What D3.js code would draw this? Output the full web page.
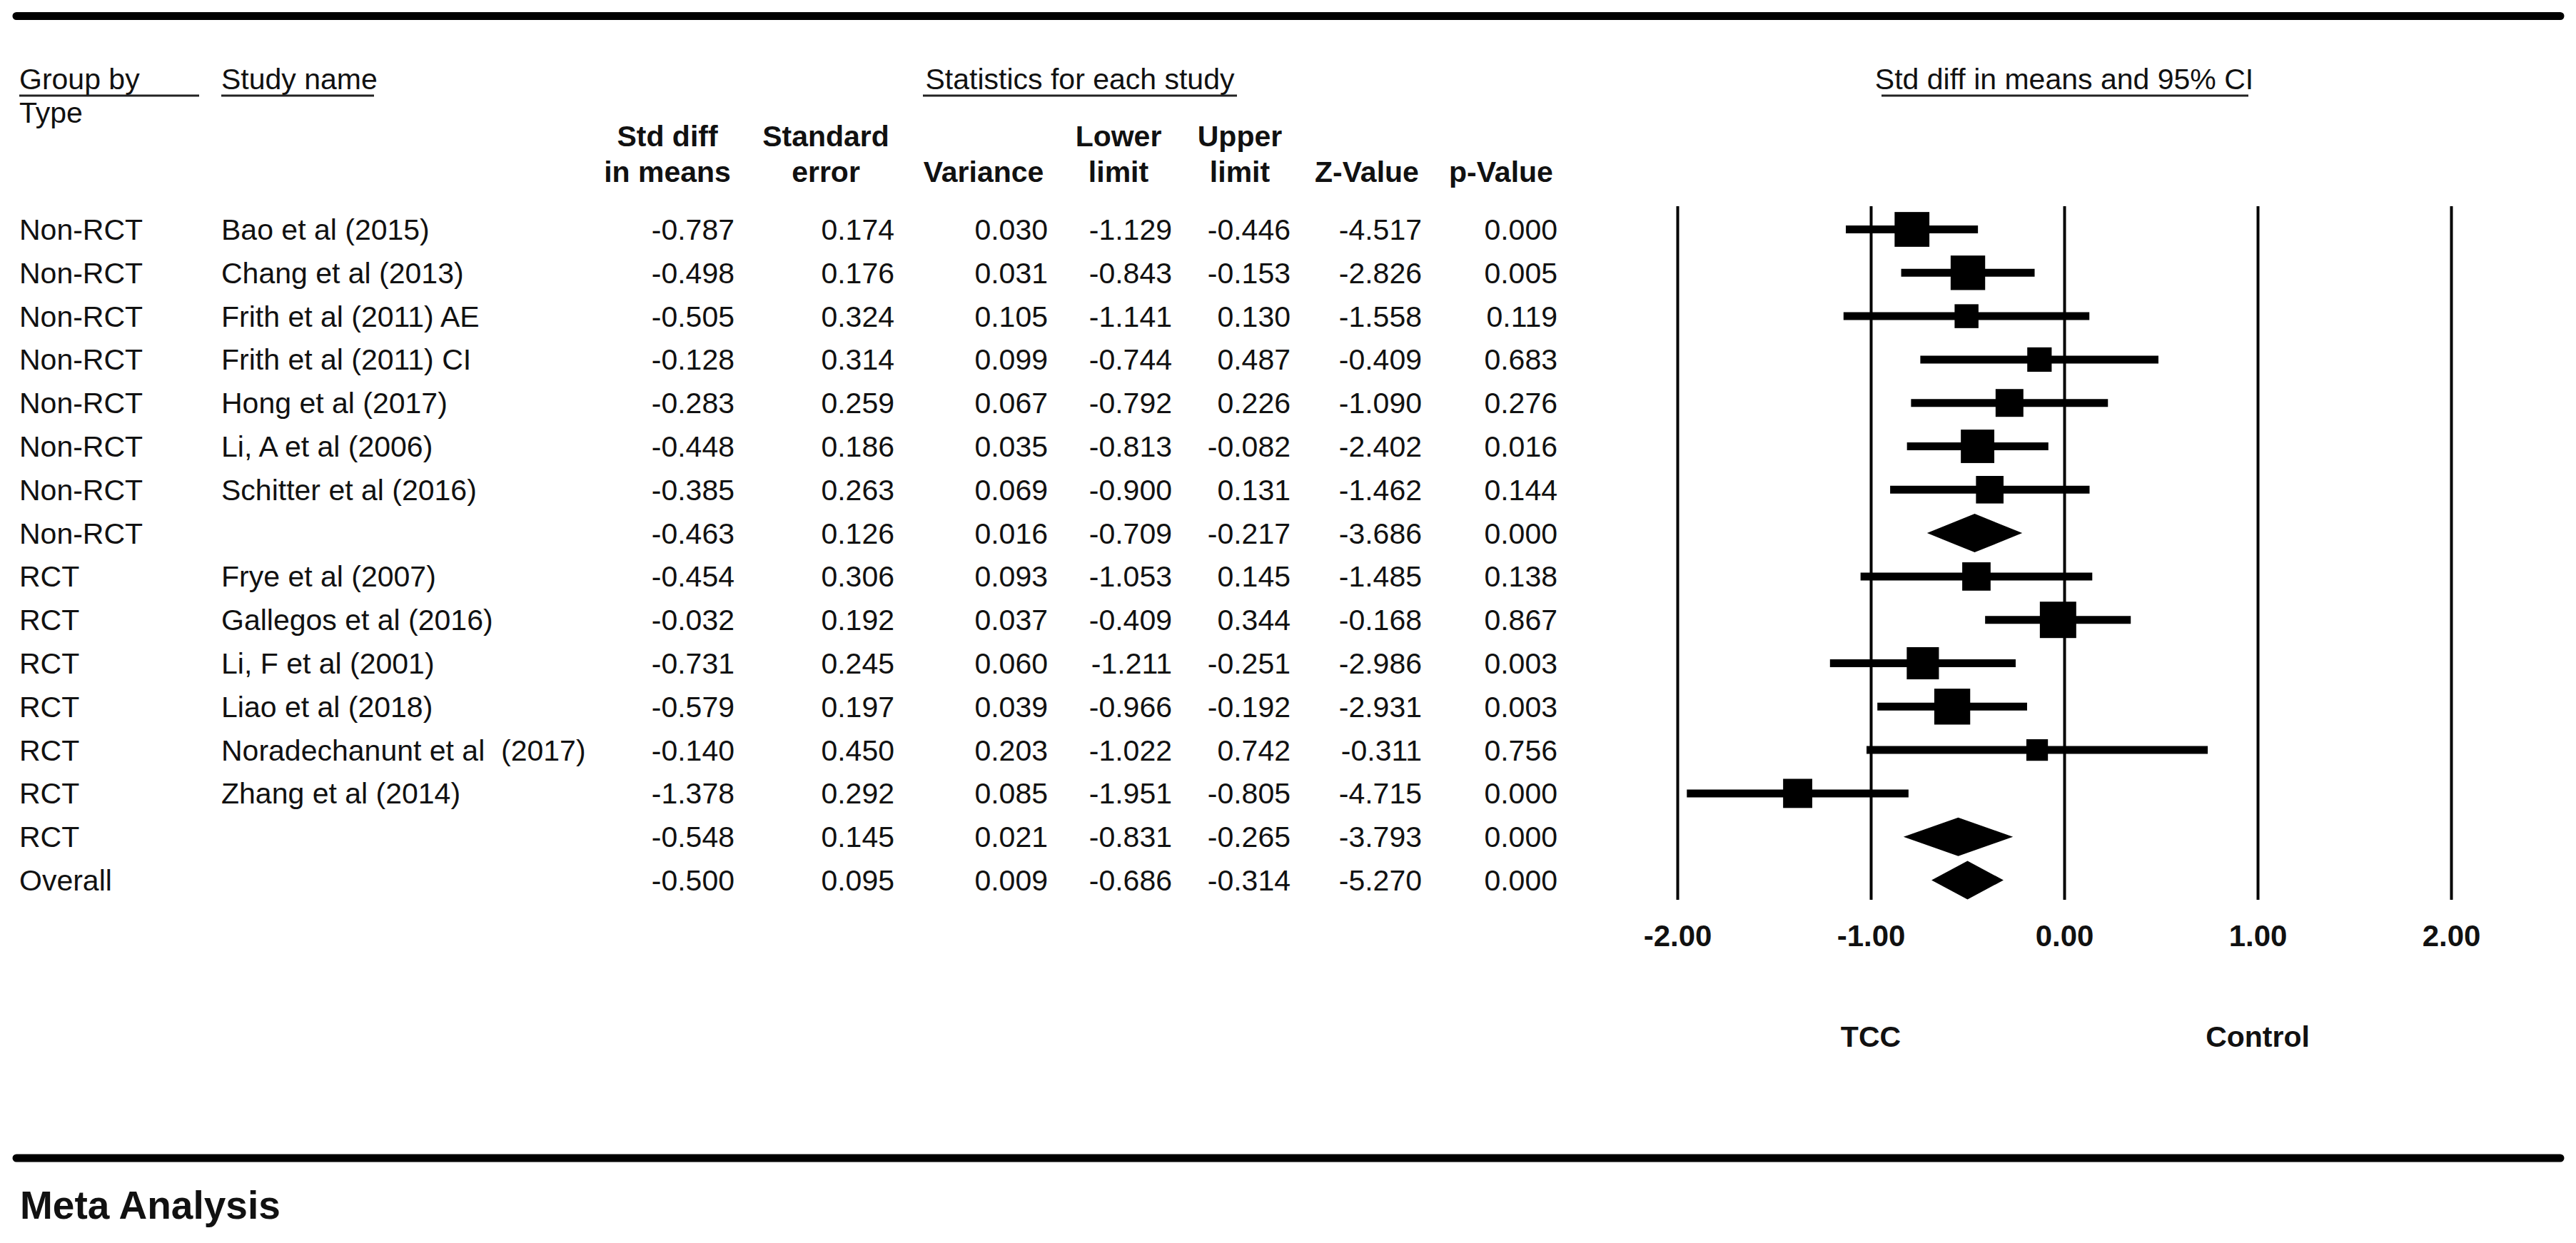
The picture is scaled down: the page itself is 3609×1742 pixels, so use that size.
<!DOCTYPE html>
<html>
<head>
<meta charset="utf-8">
<script src="https://cdn.jsdelivr.net/npm/d3@7"></script>
<style>
  html, body { margin: 0; padding: 0; background: #fff; }
  svg text { font-family: Arial, "Liberation Sans", sans-serif; fill: #111; white-space: pre; }
</style>
</head>
<body>
<script>
// table data
var groups = ["Non-RCT", "Non-RCT", "Non-RCT", "Non-RCT", "Non-RCT", "Non-RCT", "Non-RCT", "Non-RCT",
              "RCT", "RCT", "RCT", "RCT", "RCT", "RCT", "RCT", "Overall"];
var studies = ["Bao et al (2015)", "Chang et al (2013)", "Frith et al (2011) AE", "Frith et al (2011) CI",
               "Hong et al (2017)", "Li, A et al (2006)", "Schitter et al (2016)", "",
               "Frye et al (2007)", "Gallegos et al (2016)", "Li, F et al (2001)", "Liao et al (2018)",
               "Noradechanunt et al  (2017)", "Zhang et al (2014)", "", ""];
var stdDiff  = [-0.787, -0.498, -0.505, -0.128, -0.283, -0.448, -0.385, -0.463, -0.454, -0.032, -0.731, -0.579, -0.140, -1.378, -0.548, -0.500];
var stdErr   = [0.174, 0.176, 0.324, 0.314, 0.259, 0.186, 0.263, 0.126, 0.306, 0.192, 0.245, 0.197, 0.450, 0.292, 0.145, 0.095];
var variance = [0.030, 0.031, 0.105, 0.099, 0.067, 0.035, 0.069, 0.016, 0.093, 0.037, 0.060, 0.039, 0.203, 0.085, 0.021, 0.009];
var lower    = [-1.129, -0.843, -1.141, -0.744, -0.792, -0.813, -0.900, -0.709, -1.053, -0.409, -1.211, -0.966, -1.022, -1.951, -0.831, -0.686];
var upper    = [-0.446, -0.153, 0.130, 0.487, 0.226, -0.082, 0.131, -0.217, 0.145, 0.344, -0.251, -0.192, 0.742, -0.805, -0.265, -0.314];
var zValue   = [-4.517, -2.826, -1.558, -0.409, -1.090, -2.402, -1.462, -3.686, -1.485, -0.168, -2.986, -2.931, -0.311, -4.715, -3.793, -5.270];
var pValue   = [0.000, 0.005, 0.119, 0.683, 0.276, 0.016, 0.144, 0.000, 0.138, 0.867, 0.003, 0.003, 0.756, 0.000, 0.000, 0.000];
// summary rows get a diamond
var summaryRow = [false, false, false, false, false, false, false, true, false, false, false, false, false, false, true, true];

var colHeads = [["Std diff", "in means"], ["Standard", "error"], ["", "Variance"], ["Lower", "limit"],
                ["Upper", "limit"], ["", "Z-Value"], ["", "p-Value"]];
var tickValues = [-2, -1, 0, 1, 2];
var tickLabels = ["-2.00", "-1.00", "0.00", "1.00", "2.00"];
var favours = ["TCC", "Control"];

var width = 3609, height = 1742;

var svg = d3.select("body").append("svg")
  .attr("width", width)
  .attr("height", height);

svg.append("rect").attr("width", width).attr("height", height).attr("fill", "#fff");

var fmt = function(v) { return (v < 0 ? "-" : "") + Math.abs(v).toFixed(3); };

var rows = d3.range(groups.length);
var y = d3.scalePoint().domain(rows).range([321.5, 1233.5]);
var x = d3.scaleLinear().domain([-2, 2]).range([2350, 3434]);

// relative weight inside each subgroup -> box size
var weight = rows.map(function(i) {
  if (summaryRow[i]) return 0;
  var tot = d3.sum(rows.filter(function(j) { return !summaryRow[j] && groups[j] == groups[i]; }),
                   function(j) { return 1 / variance[j]; });
  return 100 * (1 / variance[i]) / tot;
});
var box = d3.scaleLog().domain([5, 28]).range([30, 51]);

// thick rules
svg.selectAll("line.rule").data([22.5, 1623]).enter().append("line")
  .attr("x1", 23).attr("x2", 3587)
  .attr("y1", function(d) { return d; }).attr("y2", function(d) { return d; })
  .attr("stroke", "#000").attr("stroke-width", 11).attr("stroke-linecap", "round");

// top headers
var heads = [
  { t: "Group by", x: 27, a: "start", u: [27, 279] },
  { t: "Study name", x: 310, a: "start", u: [310, 524] },
  { t: "Statistics for each study", x: 1513, a: "middle", u: [1293, 1733] },
  { t: "Std diff in means and 95% CI", x: x(0), a: "middle", u: [2636, 3150] }
];
svg.selectAll("text.head").data(heads).enter().append("text")
  .attr("x", function(d) { return d.x; }).attr("y", 125)
  .attr("text-anchor", function(d) { return d.a; })
  .style("font-size", "41px")
  .text(function(d) { return d.t; });
svg.selectAll("line.uline").data(heads).enter().append("line")
  .attr("x1", function(d) { return d.u[0]; }).attr("x2", function(d) { return d.u[1]; })
  .attr("y1", 134).attr("y2", 134)
  .attr("stroke", "#222").attr("stroke-width", 3);
svg.append("text").attr("x", 27).attr("y", 172).style("font-size", "41px").text("Type");

// column headers
var colRight  = [1029, 1253, 1468, 1642, 1808, 1992, 2182];
var colCenter = [935, 1157, 1378, 1567, 1737, 1915, 2103];
colHeads.forEach(function(h, c) {
  h.forEach(function(line, k) {
    svg.append("text")
      .attr("x", colCenter[c]).attr("y", 205 + k * 50)
      .attr("text-anchor", "middle")
      .style("font-size", "41px").style("font-weight", "bold")
      .text(line);
  });
});

// table body
var cols = [stdDiff, stdErr, variance, lower, upper, zValue, pValue];
var body = svg.append("g");
body.selectAll("text.grp").data(rows).enter().append("text")
  .attr("x", 27).attr("y", function(i) { return y(i) + 14.5; })
  .style("font-size", "41px")
  .text(function(i) { return groups[i]; });
body.selectAll("text.study").data(rows).enter().append("text")
  .attr("x", 310).attr("y", function(i) { return y(i) + 14.5; })
  .style("font-size", "41px")
  .text(function(i) { return studies[i]; });
cols.forEach(function(arr, c) {
  body.selectAll("text.c" + c).data(rows).enter().append("text")
    .attr("x", colRight[c]).attr("y", function(i) { return y(i) + 14.5; })
    .attr("text-anchor", "end")
    .style("font-size", "41px")
    .text(function(i) { return fmt(arr[i]); });
});

// forest plot grid via axis
var axis = d3.axisBottom(x).tickValues(tickValues)
  .tickSize(-(1261 - 289))
  .tickFormat(function(d, i) { return tickLabels[i]; });
var ax = svg.append("g").attr("transform", "translate(0,1261)").call(axis);
ax.select(".domain").remove();
ax.selectAll(".tick line").attr("stroke", "#000").attr("stroke-width", 4);
ax.selectAll(".tick text")
  .attr("y", 65).attr("dy", null)
  .style("font-size", "42px").style("font-weight", "bold")
  .style("font-family", "Arial, 'Liberation Sans', sans-serif")
  .attr("fill", "#111");

// study CIs and boxes
var plot = svg.append("g");
var st = rows.filter(function(i) { return !summaryRow[i]; });
plot.selectAll("line.ci").data(st).enter().append("line")
  .attr("x1", function(i) { return x(lower[i]); })
  .attr("x2", function(i) { return x(upper[i]); })
  .attr("y1", function(i) { return y(i); }).attr("y2", function(i) { return y(i); })
  .attr("stroke", "#000").attr("stroke-width", 11);
plot.selectAll("rect.box").data(st).enter().append("rect")
  .attr("x", function(i) { return x(stdDiff[i]) - box(weight[i]) / 2; })
  .attr("y", function(i) { return y(i) - box(weight[i]) / 2; })
  .attr("width", function(i) { return box(weight[i]); })
  .attr("height", function(i) { return box(weight[i]); })
  .attr("fill", "#000");

// summary diamonds
var sm = rows.filter(function(i) { return summaryRow[i]; });
plot.selectAll("path.diamond").data(sm).enter().append("path")
  .attr("d", function(i) {
    var h = 27;
    return "M" + x(lower[i]) + "," + y(i) +
           "L" + x(stdDiff[i]) + "," + (y(i) - h) +
           "L" + x(upper[i]) + "," + y(i) +
           "L" + x(stdDiff[i]) + "," + (y(i) + h) + "Z";
  })
  .attr("fill", "#000");

// favours labels
svg.selectAll("text.fav").data(favours).enter().append("text")
  .attr("x", function(d, i) { return x(i == 0 ? -1 : 1); })
  .attr("y", 1467)
  .attr("text-anchor", "middle")
  .style("font-size", "41px").style("font-weight", "bold")
  .text(function(d) { return d; });

svg.append("text").attr("x", 28).attr("y", 1708)
  .style("font-size", "55px").style("font-weight", "bold")
  .text("Meta Analysis");
</script>
</body>
</html>
